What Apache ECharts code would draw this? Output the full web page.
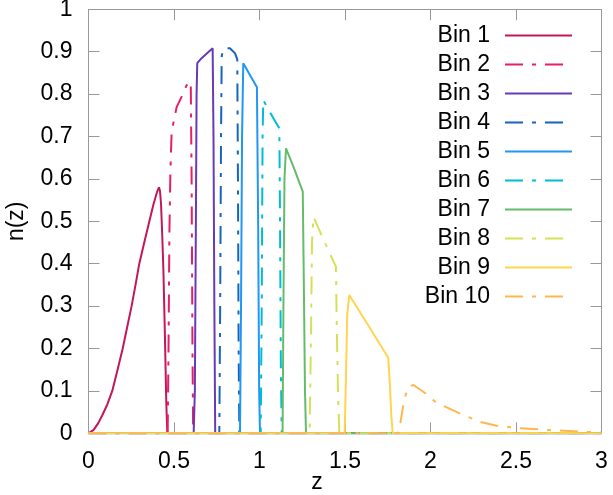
<!DOCTYPE html>
<html>
<head>
<meta charset="utf-8">
<script src="https://cdn.jsdelivr.net/npm/echarts@6/dist/echarts.min.js"></script>
<style>
html,body{margin:0;padding:0;background:#fff;}
#chart{width:613px;height:495px;}
</style>
</head>
<body>
<div id="chart"></div>
<script>
// ---- data (z, n(z)) ----
const binNames = ['Bin 1','Bin 2','Bin 3','Bin 4','Bin 5','Bin 6','Bin 7','Bin 8','Bin 9','Bin 10'];
const bin1 = [[0,0],[0.01,0.001],[0.03,0.008],[0.057,0.024],[0.08,0.042],[0.11,0.068],[0.139,0.1],[0.17,0.15],[0.2,0.2],[0.226,0.25],[0.252,0.3],[0.275,0.35],[0.297,0.4],[0.326,0.45],[0.356,0.5],[0.38,0.54],[0.4,0.568],[0.412,0.58],[0.418,0.572],[0.424,0.542],[0.431,0.47],[0.438,0.385],[0.447,0.228],[0.455,0.071],[0.461,0],[3,0]];
const bin2 = [[0,0],[0.463,0],[0.468,0.2],[0.473,0.47],[0.479,0.62],[0.486,0.708],[0.5,0.74],[0.516,0.77],[0.545,0.794],[0.574,0.821],[0.598,0.829],[0.603,0.6],[0.608,0.2],[0.612,0],[3,0]];
const bin3 = [[0,0],[0.615,0],[0.622,0.1],[0.628,0.5],[0.632,0.8],[0.636,0.873],[0.655,0.882],[0.69,0.895],[0.726,0.908],[0.731,0.7],[0.736,0.3],[0.741,0],[3,0]];
const bin4 = [[0,0],[0.765,0],[0.77,0.3],[0.775,0.7],[0.779,0.89],[0.79,0.908],[0.8,0.912],[0.827,0.908],[0.857,0.896],[0.87,0.882],[0.874,0.6],[0.878,0.2],[0.882,0],[3,0]];
const bin5 = [[0,0],[0.886,0],[0.892,0.3],[0.898,0.7],[0.905,0.873],[0.985,0.816],[0.992,0.5],[0.998,0.1],[1.003,0],[3,0]];
const bin6 = [[0,0],[1.007,0],[1.013,0.3],[1.018,0.7],[1.022,0.786],[1.061,0.757],[1.116,0.719],[1.12,0.5],[1.125,0.15],[1.13,0],[3,0]];
const bin7 = [[0,0],[1.135,0],[1.14,0.3],[1.146,0.6],[1.155,0.672],[1.2,0.627],[1.253,0.57],[1.258,0.4],[1.266,0.1],[1.272,0],[3,0]];
const bin8 = [[0,0],[1.293,0],[1.3,0.2],[1.307,0.45],[1.315,0.511],[1.383,0.449],[1.447,0.393],[1.452,0.25],[1.46,0.08],[1.467,0],[3,0]];
const bin9 = [[0,0],[1.498,0],[1.505,0.12],[1.513,0.28],[1.525,0.326],[1.64,0.252],[1.753,0.178],[1.762,0.12],[1.771,0.04],[1.779,0],[3,0]];
const bin10 = [[0,0],[1.81,0],[1.822,0.02],[1.838,0.06],[1.851,0.086],[1.87,0.11],[1.9,0.114],[1.958,0.098],[2.026,0.075],[2.095,0.061],[2.192,0.043],[2.29,0.027],[2.387,0.018],[2.523,0.012],[2.68,0.008],[2.874,0.004],[3,0.002]];
const binData = [bin1,bin2,bin3,bin4,bin5,bin6,bin7,bin8,bin9,bin10];
const binColors = ['#c2185b','#e91e63','#673ab7','#1565c0','#2196f3','#00bcd4','#66bb6a','#d4e157','#ffd54f','#ffb74d'];
const binDashed = [false,true,false,true,false,true,false,true,false,true];

const FONT = 'Liberation Sans, Arial, sans-serif';
const FS = 23;
const dashPattern = [18, 9, 4, 9];

const chart = echarts.init(document.getElementById('chart'), null, {renderer:'canvas'});
const frameColor = '#999';

const series = binNames.map((name, i) => ({
  name: name,
  type: 'line',
  data: binData[i],
  xAxisIndex: 0,
  yAxisIndex: 0,
  showSymbol: false,
  symbol: 'none',
  smooth: false,
  lineStyle: {color: binColors[i], width: 2, type: binDashed[i] ? dashPattern : 'solid'},
  itemStyle: {color: binColors[i]},
  emphasis: {disabled: true},
  z: 2
}));

const commonAxis = {
  axisLine: {show: true, onZero: false, lineStyle: {color: frameColor, width: 1}},
  axisTick: {show: true, inside: true, length: 11, lineStyle: {color: frameColor, width: 1}},
  splitLine: {show: false}
};

chart.setOption({
  animation: false,
  backgroundColor: '#fff',
  textStyle: {fontFamily: FONT},
  grid: {left: 88.5, right: 11.5, top: 9.3, bottom: 61.7, containLabel: false, outerBoundsMode: 'none'},
  legend: {
    orient: 'vertical',
    right: 40,
    top: 24,
    padding: 0,
    align: 'right',
    itemWidth: 67,
    itemHeight: 14,
    itemGap: 6,
    itemStyle: {color: 'rgba(0,0,0,0)', borderWidth: 0, opacity: 0},
    textStyle: {fontFamily: FONT, fontSize: FS, color: '#000', lineHeight: 23, padding: [0, 10, 0, 0]},
    data: binNames
  },
  xAxis: [
    Object.assign({
      type: 'value', position: 'bottom', min: 0, max: 3, interval: 0.5,
      name: 'z', nameLocation: 'middle', nameGap: 38, nameMoveOverlap: false,
      nameTextStyle: {fontFamily: FONT, fontSize: FS, color: '#000', padding: [0, 56, 0, 0]},
      axisLabel: {fontFamily: FONT, fontSize: FS, color: '#000', margin: 17}
    }, commonAxis),
    Object.assign({
      type: 'value', position: 'top', min: 0, max: 3, interval: 0.5,
      axisLabel: {show: false}
    }, commonAxis)
  ],
  yAxis: [
    Object.assign({
      type: 'value', position: 'left', min: 0, max: 1, interval: 0.1,
      name: 'n(z)', nameLocation: 'middle', nameGap: 60, nameRotate: 90, nameMoveOverlap: false,
      nameTextStyle: {fontFamily: FONT, fontSize: FS, color: '#000'},
      axisLabel: {fontFamily: FONT, fontSize: FS, color: '#000', margin: 16}
    }, commonAxis),
    Object.assign({
      type: 'value', position: 'right', min: 0, max: 1, interval: 0.1,
      axisLabel: {show: false}
    }, commonAxis)
  ],
  series: series
});
</script>
</body>
</html>
